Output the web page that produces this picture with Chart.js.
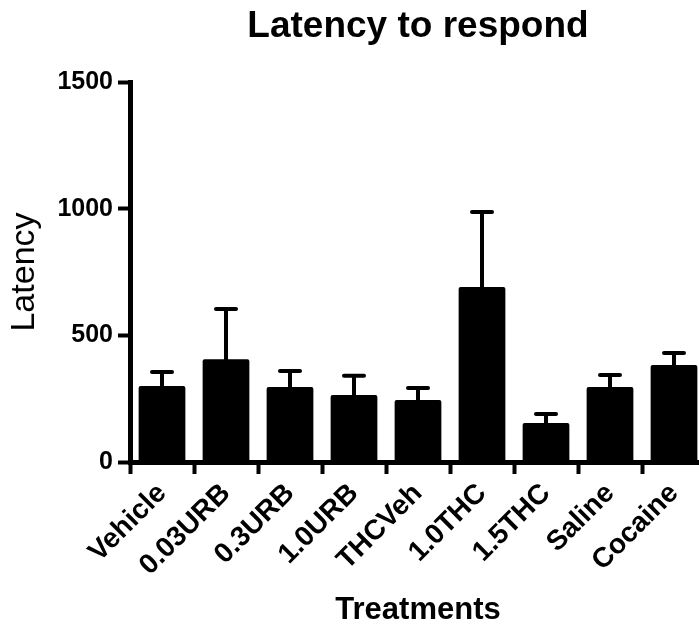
<!DOCTYPE html>
<html>
<head>
    <title>Latency to respond</title>
    <script src="https://cdn.jsdelivr.net/npm/chart.js"></script>
    <style>
        html, body {
            margin: 0;
            padding: 0;
            background-color: #ffffff;
            overflow: hidden;
        }
        #wrap {
            width: 706px;
            height: 630px;
        }
    </style>
</head>
<body>
    <div id="wrap"><canvas id="chart"></canvas></div>
    <script>
        // values
        const treatments = ['Vehicle', '0.03URB', '0.3URB', '1.0URB', 'THCVeh', '1.0THC', '1.5THC', 'Saline', 'Cocaine'];
        const latency = [300, 406, 296, 264, 245, 691, 154, 296, 383];
        const errUpper = [355, 604, 359, 340, 292, 987, 189, 343, 430];
        const yTicks = [0, 500, 1000, 1500];
        const chartTitle = 'Latency to respond';

        const fontFam = '"Liberation Sans", Arial, Helvetica, sans-serif';

        // title centred over the plot area (Prism style), not the canvas
        const plotTitle = {
            id: 'plotTitle',
            afterDraw(chart) {
                const ctx = chart.ctx;
                const a = chart.chartArea;
                ctx.save();
                ctx.fillStyle = '#000';
                ctx.font = 'bold 37px ' + fontFam;
                ctx.textAlign = 'center';
                ctx.textBaseline = 'alphabetic';
                ctx.fillText(chartTitle, (a.left + a.right) / 2, 37);
                ctx.restore();
            }
        };

        // one-sided (upper) error bars
        const errorBars = {
            id: 'errorBars',
            afterDatasetsDraw(chart) {
                const ctx = chart.ctx;
                const xs = chart.scales.x, ys = chart.scales.y;
                ctx.save();
                ctx.strokeStyle = '#000';
                ctx.lineWidth = 4;
                ctx.lineCap = 'round';
                errUpper.forEach((v, i) => {
                    const x = xs.getPixelForValue(i);
                    const yTop = ys.getPixelForValue(v);
                    const yBar = ys.getPixelForValue(latency[i]);
                    ctx.beginPath();
                    ctx.moveTo(x, yBar);
                    ctx.lineTo(x, yTop);
                    ctx.moveTo(x - 10, yTop);
                    ctx.lineTo(x + 10, yTop);
                    ctx.stroke();
                });
                ctx.restore();
            }
        };

        new Chart(document.getElementById('chart'), {
            type: 'bar',
            data: {
                labels: treatments,
                datasets: [{
                    label: 'Latency',
                    data: latency,
                    backgroundColor: '#000',
                    borderRadius: 2,
                    borderSkipped: 'bottom',
                    categoryPercentage: 1,
                    barPercentage: 0.73
                }]
            },
            options: {
                responsive: true,
                maintainAspectRatio: false,
                animation: false,
                layout: { padding: { left: 0, right: 0, top: 82, bottom: 0 } },
                plugins: {
                    legend: { display: false },
                    tooltip: { enabled: false },
                    title: { display: false }
                },
                scales: {
                    x: {
                        offset: true,
                        afterFit(axis) { axis.height = 168; },
                        grid: { drawOnChartArea: false, drawTicks: true, tickLength: 12, tickWidth: 4, color: '#000' },
                        border: { display: true, width: 5, color: '#000' },
                        ticks: {
                            color: '#000',
                            maxRotation: 45,
                            minRotation: 45,
                            padding: 3,
                            font: { family: fontFam, size: 28, weight: 'bold' }
                        },
                        title: {
                            display: true,
                            text: 'Treatments',
                            color: '#000',
                            font: { family: fontFam, size: 31, weight: 'bold' },
                            padding: { top: 0, bottom: 1 }
                        }
                    },
                    y: {
                        min: 0,
                        max: 1500,
                        afterFit(axis) { axis.width = 130; },
                        afterBuildTicks(axis) {
                            axis.ticks = yTicks.map(v => ({ value: v }));
                        },
                        grid: { drawOnChartArea: false, drawTicks: true, tickLength: 12, tickWidth: 4, color: '#000' },
                        border: { display: true, width: 5, color: '#000' },
                        ticks: {
                            color: '#000',
                            padding: 5,
                            font: { family: fontFam, size: 25, weight: 'bold' },
                            callback: v => String(v)
                        },
                        title: {
                            display: true,
                            text: 'Latency',
                            color: '#000',
                            font: { family: fontFam, size: 34, weight: 'normal' },
                            padding: { top: 4, bottom: 0 }
                        }
                    }
                }
            },
            plugins: [errorBars, plotTitle]
        });
    </script>
</body>
</html>
